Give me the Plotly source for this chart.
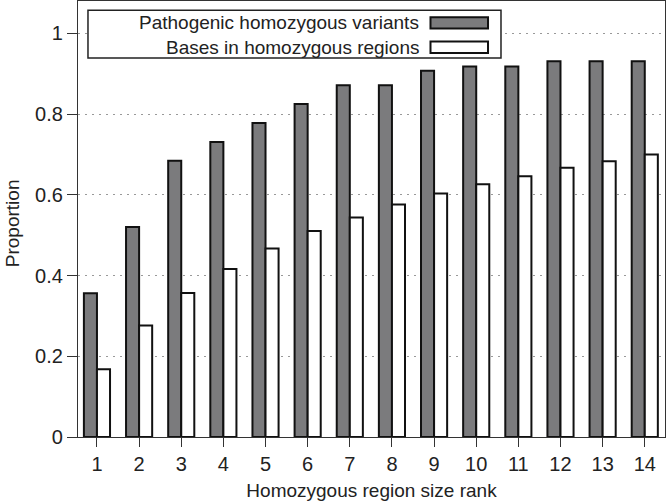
import plotly.graph_objects as go

ranks = list(range(1, 15))
tick_labels = [str(r) for r in ranks]
pathogenic = [0.356, 0.52, 0.684, 0.731, 0.778, 0.825, 0.871, 0.871,
              0.907, 0.918, 0.918, 0.931, 0.931, 0.931]
bases = [0.168, 0.276, 0.357, 0.416, 0.467, 0.510, 0.544, 0.576,
         0.603, 0.626, 0.646, 0.667, 0.683, 0.700]
names = ["Pathogenic homozygous variants", "Bases in homozygous regions"]

GRAY = "#7b7b7d"
FONT = "Liberation Sans, Arial, Helvetica, sans-serif"

fig = go.Figure()
fig.add_trace(go.Bar(x=ranks, y=pathogenic, name=names[0],
                     marker=dict(color=GRAY, line=dict(color="#111", width=2)),
                     showlegend=False))
fig.add_trace(go.Bar(x=ranks, y=bases, name=names[1],
                     marker=dict(color="white", line=dict(color="#111", width=2)),
                     showlegend=False))

# hand-built legend: text right-aligned, swatch on the right
shapes = [dict(type="rect", xref="paper", yref="paper",
               x0=0.017, x1=0.7206, y0=0.869, y1=0.979,
               line=dict(color="#222", width=1.5), fillcolor="white", layer="above")]
annotations = []
for i, (nm, col) in enumerate(zip(names, [GRAY, "white"])):
    yc = 0.950 - i * 0.056
    shapes.append(dict(type="rect", xref="paper", yref="paper",
                       x0=0.6005, x1=0.6985, y0=yc - 0.013, y1=yc + 0.013,
                       line=dict(color="#111", width=2), fillcolor=col, layer="above"))
    annotations.append(dict(xref="paper", yref="paper", x=0.585, y=yc,
                            text=nm, showarrow=False, xanchor="right", yanchor="middle",
                            font=dict(family=FONT, size=19, color="#222")))

# y-axis title placed by hand so it sits at the left edge like the original
annotations.append(dict(xref="paper", yref="paper", x=-0.111, y=0.49,
                        text="Proportion", textangle=-90, showarrow=False,
                        xanchor="center", yanchor="middle",
                        font=dict(family=FONT, size=19, color="#222")))

fig.update_layout(
    width=667, height=502,
    margin=dict(l=78, r=2, t=1, b=65),
    plot_bgcolor="white", paper_bgcolor="white",
    barmode="group", bargap=0.38, bargroupgap=0,
    font=dict(family=FONT, size=20, color="#222"),
    shapes=shapes, annotations=annotations,
    xaxis=dict(range=[0.55, 14.48], tickmode="array", tickvals=ranks, ticktext=tick_labels,
               ticks="outside", ticklen=9, tickwidth=1.2, tickcolor="#333",
               showline=True, linecolor="#333", linewidth=1.2, mirror=True,
               showgrid=False, zeroline=False, automargin=False,
               title=dict(text="Homozygous region size rank", standoff=9,
                          font=dict(size=19))),
    yaxis=dict(range=[0, 1.08], tickvals=[0, 0.2, 0.4, 0.6, 0.8, 1],
               ticktext=["0", "0.2", "0.4", "0.6", "0.8", "1"],
               ticks="outside", ticklen=10, tickwidth=1.2, tickcolor="#333",
               showline=True, linecolor="#333", linewidth=1.2, mirror=True,
               showgrid=True, gridcolor="#999", griddash="2px,5px", gridwidth=1,
               zeroline=False, automargin=False),
)

fig.write_html("out.html", config={"displayModeBar": False},
               post_script="document.body.style.margin='0';")
